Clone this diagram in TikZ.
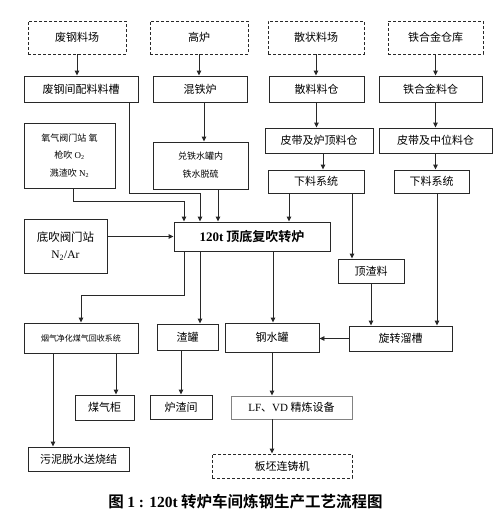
\documentclass[tikz,border=0pt]{standalone}
\usepackage{fontspec}
\setmainfont{Liberation Serif}
\newfontfamily\cjk{Noto Sans CJK SC}[BoldFont={Noto Sans CJK SC Bold}]
\usepackage{tikz}
\usetikzlibrary{arrows.meta, positioning, calc}
\definecolor{edgegray}{RGB}{40, 40, 40}
\definecolor{lightedge}{RGB}{130, 130, 130}

\begin{document}
\begin{tikzpicture}[x=1pt, y=-1pt,
    box/.style={draw=edgegray, line width=0.9pt, inner sep=0pt, align=center,
                font=\cjk\fontsize{11}{13}\selectfont},
    dbox/.style={box, dash pattern=on 3pt off 2pt},
    arr/.style={draw=edgegray, line width=0.9pt,
                -{Triangle[length=5pt, width=4.5pt]}}]
  \useasboundingbox[fill=white] (0,0) rectangle (500,517);

  % ---- Sources ----
  \node[dbox, minimum width=98, minimum height=33] (scrapyard) at (77,37.5) {废钢料场};
  \node[dbox, minimum width=98, minimum height=33] (furnace) at (199,37.5) {高炉};
  \node[dbox, minimum width=96, minimum height=33] (bulkyard) at (316,37.5) {散状料场};
  \node[dbox, minimum width=95, minimum height=33] (alloystore) at (435.5,37.5) {铁合金仓库};

  % ---- Bins ----
  \node[box, minimum width=114, minimum height=26] (scrapbin) at (81,89) {废钢间配料料槽};
  \node[box, minimum width=94, minimum height=26] (mixer) at (200,89) {混铁炉};
  \node[box, minimum width=95, minimum height=26] (bulkbin) at (316.5,89) {散料料仓};
  \node[box, minimum width=103, minimum height=26] (alloybin) at (430.5,89) {铁合金料仓};
  \node[box, minimum width=108, minimum height=25] (topbin) at (319,140.5) {皮带及炉顶料仓};
  \node[box, minimum width=113, minimum height=25] (midbin) at (435.5,140.5) {皮带及中位料仓};
  \node[box, minimum width=96, minimum height=23] (feedA) at (316,181.5) {下料系统};
  \node[box, minimum width=75, minimum height=23] (feedB) at (431.5,181.5) {下料系统};

  % ---- Converter and its inputs ----
  \node[box, minimum width=91, minimum height=65, font=\cjk\fontsize{9}{17.5}\selectfont]
    (oxygen) at (69.5,155.5) {氧气阀门站 氧\\枪吹 {\rmfamily O\textsubscript{2}}\\溅渣吹 {\rmfamily N\textsubscript{2}}};
  \node[box, minimum width=95, minimum height=47, font=\cjk\fontsize{9}{18}\selectfont]
    (desulf) at (200.5,165.5) {兑铁水罐内\\铁水脱硫};
  \node[box, minimum width=83, minimum height=54, font=\cjk\fontsize{11.5}{17}\selectfont]
    (bottomvalve) at (65.5,246) {底吹阀门站\\{\rmfamily N\textsubscript{2}/Ar}};
  \node[box, minimum width=156, minimum height=29, font=\cjk\bfseries\fontsize{13}{15}\selectfont]
    (bof) at (252,236.5) {{\rmfamily 120t} 顶底复吹转炉};
  \node[box, minimum width=66, minimum height=24] (slagmat) at (371,271) {顶渣料};

  % ---- Products ----
  \node[box, minimum width=114, minimum height=30, font=\cjk\fontsize{8}{10}\selectfont]
    (gasclean) at (81,338) {烟气净化煤气回收系统};
  \node[box, minimum width=61, minimum height=26] (slagpot) at (187.5,337) {渣罐};
  \node[box, minimum width=94, minimum height=29] (ladle) at (272,337.5) {钢水罐};
  \node[box, minimum width=103, minimum height=25] (chute) at (400.5,338.5) {旋转溜槽};
  \node[box, minimum width=59, minimum height=25] (gasholder) at (104.5,407.5) {煤气柜};
  \node[box, minimum width=62, minimum height=24] (slaghall) at (181,407) {炉渣间};
  \node[box, minimum width=101, minimum height=24] (sludge) at (78.5,459) {污泥脱水送烧结};
  \node[box, draw=lightedge, minimum width=121, minimum height=23]
    (refine) at (291.5,407.5) {{\rmfamily LF}、{\rmfamily VD} 精炼设备};
  \node[dbox, minimum width=140, minimum height=24] (caster) at (282,466) {板坯连铸机};

  % ---- Caption ----
  \node[font=\cjk\bfseries\fontsize{15.5}{18}\selectfont] (caption) at (245.5,502)
    {图 {\rmfamily 1 : 120t} 转炉车间炼钢生产工艺流程图};

  % ---- Connectors: top rows ----
  \draw[arr] (scrapyard.south) -- (scrapyard.south |- scrapbin.north);
  \draw[arr] (furnace.south) -- (furnace.south |- mixer.north);
  \draw[arr] (bulkyard.south) -- (bulkyard.south |- bulkbin.north);
  \draw[arr] (alloystore.south) -- (alloystore.south |- alloybin.north);
  \draw[arr] (bulkbin.south) -- (bulkbin.south |- topbin.north);
  \draw[arr] (alloybin.south -| alloystore) -- (alloystore |- midbin.north);
  \draw[arr] ([xshift=4]topbin.south) -- ([xshift=4]topbin.south |- feedA.north);
  \draw[arr] (midbin.south) -- (midbin.south |- feedB.north);
  \draw[arr] ([xshift=4]mixer.south) -- ([xshift=4]mixer.south |- desulf.north);

  % ---- Connectors: into the converter ----
  \draw[arr] ([xshift=4]oxygen.south) -- ++(0,13) -| ([xshift=-68]bof.north);
  \draw[arr] ([xshift=48]scrapbin.south) -- ([xshift=48]scrapbin.south |- feedA.south)
    -| ([xshift=-52]bof.north);
  \draw[arr] ([xshift=17.5]desulf.south) -- ([xshift=-34]bof.north);
  \draw[arr] ([xshift=-27]feedA.south) -- ([xshift=-27]feedA.south |- bof.north);
  \draw[arr] ([xshift=36]feedA.south) -- ([xshift=36]feedA.south |- slagmat.north);
  \draw[arr] (bof.west -| bottomvalve.east) -- (bof.west);

  % ---- Connectors: out of the converter ----
  \draw[arr] ([xshift=-68]bof.south) -- ++(0,44) -| (gasclean.north);
  \draw[arr] ([xshift=-52]bof.south) -- ([xshift=-52]bof.south |- slagpot.north);
  \draw[arr] ([xshift=21]bof.south) -- ([xshift=21]bof.south |- ladle.north);
  \draw[arr] (slagmat.south) -- (slagmat.south |- chute.north);
  \draw[arr] ([xshift=5.5]feedB.south) -- ([xshift=5.5]feedB.south |- chute.north);
  \draw[arr] (chute.west) -- (chute.west -| ladle.east);
  \draw[arr] ([xshift=35]gasclean.south) -- ([xshift=35]gasclean.south |- gasholder.north);
  \draw[arr] ([xshift=-28]gasclean.south) -- ([xshift=-28]gasclean.south |- sludge.north);
  \draw[arr] (slaghall.north |- slagpot.south) -- (slaghall.north);
  \draw[arr] (ladle.south) -- (ladle.south |- refine.north);
  \draw[arr] (ladle.south |- refine.south) -- (ladle.south |- caster.north);
\end{tikzpicture}
\end{document}
